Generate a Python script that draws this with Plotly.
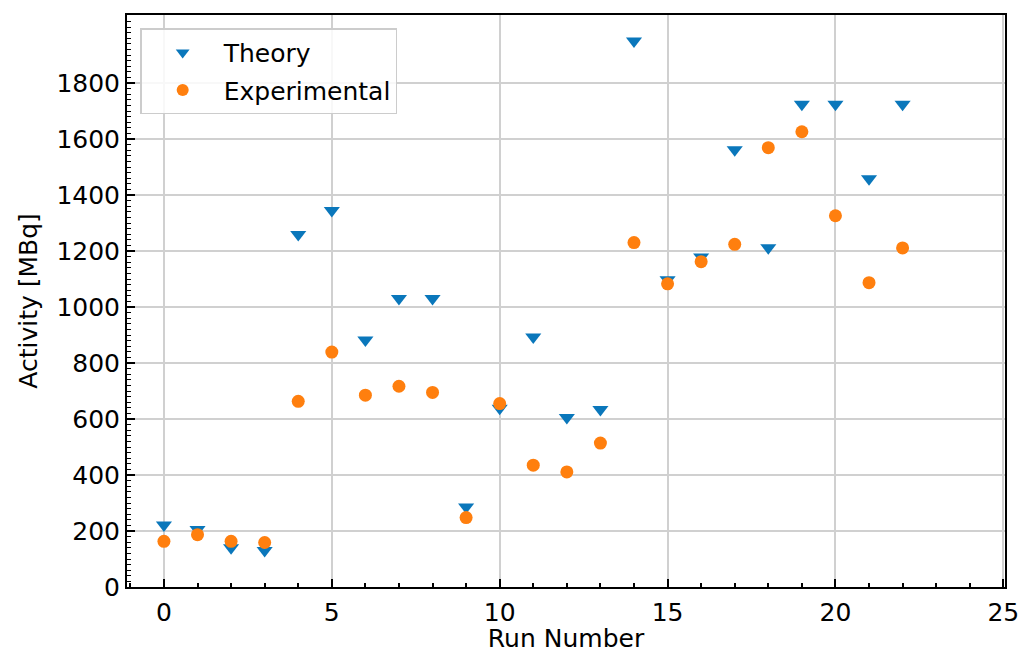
import plotly.graph_objects as go

runs = list(range(23))
theory = [221, 205, 140, 130, 1259, 1345, 882, 1030, 1030, 286, 638, 893, 605, 634,
          1950, 1097, 1179, 1562, 1212, 1724, 1724, 1458, 1724]
experimental = [163, 187, 163, 159, 663, 839, 685, 717, 695, 248, 655, 435, 411, 514,
                1230, 1083, 1162, 1224, 1569, 1626, 1326, 1087, 1211]

BLUE = "#0a77bb"
ORANGE = "#ff7f0e"
FONT = "DejaVu Sans"
FS = 25

fig = go.Figure()
fig.add_trace(go.Scatter(
    x=runs, y=theory, mode="markers", name="Theory", legendgroup="t",
    marker=dict(symbol="triangle-down", size=14, color=BLUE, line=dict(width=0)),
))
fig.add_trace(go.Scatter(
    x=runs, y=experimental, mode="markers", name="Experimental", legendgroup="e",
    marker=dict(symbol="circle", size=13, color=ORANGE, line=dict(width=0)),
))

axis_common = dict(
    showline=True, linecolor="black", linewidth=2, mirror=True,
    ticks="inside", tickcolor="black", tickwidth=1.5, ticklen=8,
    showgrid=True, gridcolor="#d0d0d0", gridwidth=1.5,
    zeroline=False, automargin=False,
    tickfont=dict(family=FONT, size=FS, color="black"),
)

fig.update_xaxes(
    range=[-1.1, 25.05], tickmode="linear", tick0=0, dtick=5,
    ticklabelstandoff=2,
    title=dict(text="Run Number", font=dict(family=FONT, size=FS, color="black"), standoff=10),
    minor=dict(ticks="inside", dtick=1, tick0=0, ticklen=4, tickwidth=1.5, tickcolor="black", showgrid=False),
    **axis_common,
)
fig.update_yaxes(
    range=[0, 2043], tickmode="array", tickvals=list(range(0, 2000, 200)),
    ticklabelstandoff=0,
    title=dict(text="Activity [MBq]", font=dict(family=FONT, size=FS, color="black"), standoff=12),
    minor=dict(ticks="inside", dtick=20, tick0=0, ticklen=4, tickwidth=1.2, tickcolor="black", showgrid=False),
    **axis_common,
)

fig.update_layout(
    width=1022, height=653,
    margin=dict(l=127, r=17, t=15, b=66),
    plot_bgcolor="white", paper_bgcolor="white",
    font=dict(family=FONT, size=FS, color="black"),
    showlegend=True,
    legend=dict(
        x=0.015, y=0.977, xanchor="left", yanchor="top",
        bgcolor="rgba(255,255,255,0.85)", bordercolor="#cccccc", borderwidth=1.5,
        font=dict(family=FONT, size=FS, color="black"),
        itemsizing="constant", tracegroupgap=2, itemwidth=72,
    ),
)

fig.write_html("out.html")
